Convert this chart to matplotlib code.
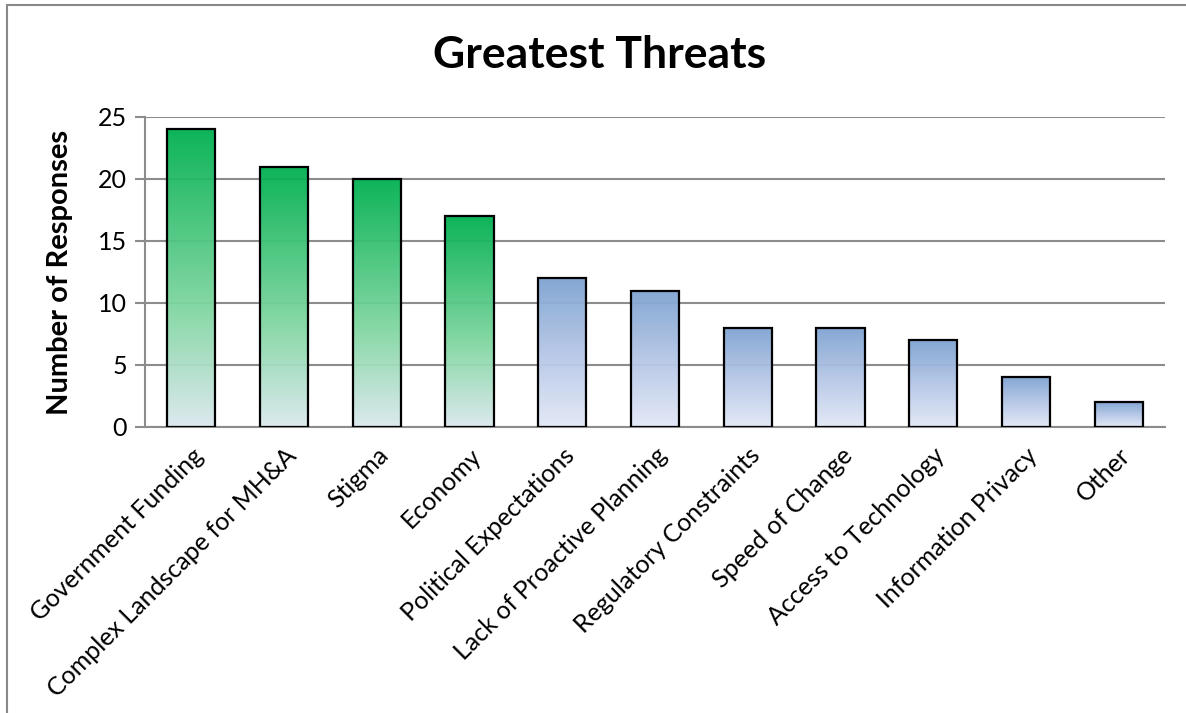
import numpy as np
import matplotlib.pyplot as plt
from matplotlib.colors import LinearSegmentedColormap
from matplotlib.patches import Rectangle

categories = ['Government Funding', 'Complex Landscape for MH&A', 'Stigma', 'Economy',
              'Political Expectations', 'Lack of Proactive Planning', 'Regulatory Constraints',
              'Speed of Change', 'Access to Technology', 'Information Privacy', 'Other']
responses = [24, 21, 20, 17, 12, 11, 8, 8, 7, 4, 2]
n_green = 4  # first four bars get the green fill

plt.rcParams['font.family'] = ['Lato', 'DejaVu Sans']

green = LinearSegmentedColormap.from_list('g', [(0, '#dbe8ee'), (0.4, '#80d6a0'), (1, '#00b050')])
blue = LinearSegmentedColormap.from_list('b', [(0, '#e2e8f6'), (0.5, '#b4c6e6'), (1, '#7ea3d1')])

fig = plt.figure(figsize=(11.86, 7.13), dpi=100)
ax = fig.add_axes([145 / 1186, 1 - 427 / 713, 1020 / 1186, 310 / 713])

# outer chart border
fig.add_artist(Rectangle((7 / 1186, -0.01), 1.2, 1 - 5 / 713 + 0.01, transform=fig.transFigure,
                         fill=False, edgecolor='#888888', linewidth=1.5))

x = np.arange(len(categories))
w = 0.52
ax.set_xlim(-0.5, len(categories) - 0.5)
ax.set_ylim(0, 25)

grad = np.linspace(0, 1, 256).reshape(-1, 1)
for i, v in enumerate(responses):
    cmap = green if i < n_green else blue
    ax.imshow(grad, cmap=cmap, origin='lower', extent=[i - w / 2, i + w / 2, 0, v],
              aspect='auto', alpha=0.95, zorder=2)
    ax.add_patch(Rectangle((i - w / 2, 0), w, v, fill=False, edgecolor='black',
                           linewidth=1.6, zorder=3))

ax.set_yticks(range(0, 26, 5))
ax.yaxis.grid(True, color='#8c8c8c', linewidth=1.5, zorder=1)
ax.set_axisbelow(True)
for s in ['top', 'right']:
    ax.spines[s].set_visible(False)
ax.spines['left'].set_color('#8c8c8c')
ax.spines['left'].set_linewidth(1.5)
ax.spines['bottom'].set_color('#8c8c8c')
ax.spines['bottom'].set_linewidth(1.5)
ax.tick_params(axis='y', length=7, width=1.5, color='#8c8c8c', labelsize=18, pad=6)
ax.tick_params(axis='x', length=0, labelsize=18, pad=12)
ax.set_xticks(x)
ax.set_xticklabels(categories, rotation=45, ha='right', rotation_mode='anchor')

ax.set_ylabel('Number of Responses', fontsize=21, fontweight='bold', labelpad=18)
fig.text(600 / 1186, 1 - 55 / 713, 'Greatest Threats', fontsize=32, fontweight='bold',
         ha='center', va='center')

fig.savefig('out.png', dpi=100, facecolor='white')
